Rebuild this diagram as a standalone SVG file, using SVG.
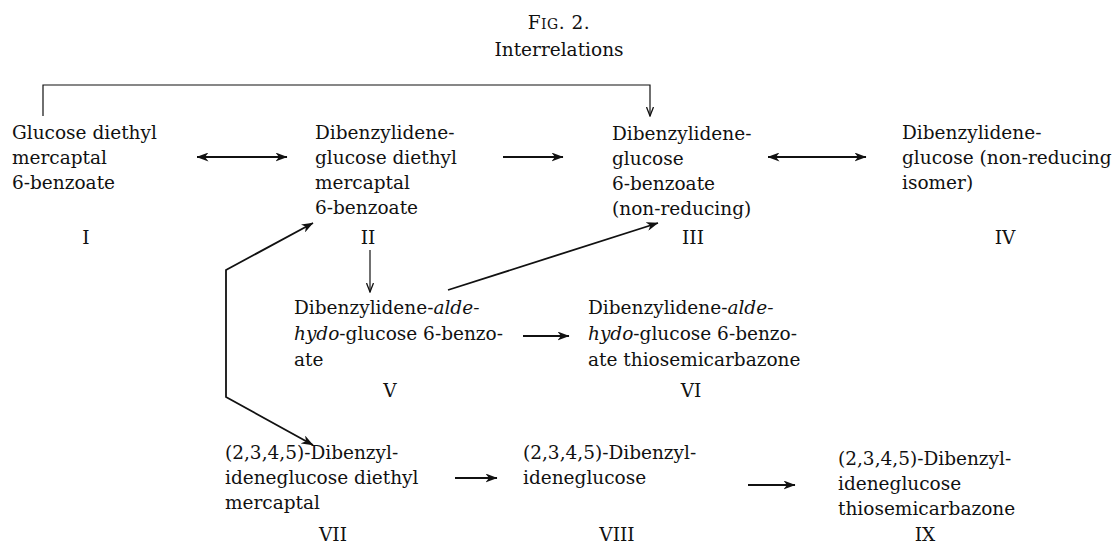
<svg xmlns="http://www.w3.org/2000/svg" width="1118" height="546" viewBox="0 0 1118 546">
<defs>
<style>
text{font-family:"DejaVu Serif","Liberation Serif",serif;font-size:18.5px;fill:#111}
.t{font-size:18.5px}
.sc{font-size:14px}
.lab{text-anchor:middle}
.it{font-style:italic}
.c{fill:none;stroke:#111;stroke-width:1.8}
.thin{fill:none;stroke:#111;stroke-width:1.2}
</style>
<marker id="ah" viewBox="0 0 12 9" refX="11.5" refY="4.5" markerWidth="12" markerHeight="9" markerUnits="userSpaceOnUse" orient="auto-start-reverse">
<path d="M0,0 L12,4.5 L0,9 L3.5,4.5 z" fill="#111"/>
</marker>
<marker id="vh" viewBox="0 0 10 8" refX="9.5" refY="4" markerWidth="10" markerHeight="8" markerUnits="userSpaceOnUse" orient="auto">
<path d="M0.5,0.5 L9.5,4 L0.5,7.5" fill="none" stroke="#111" stroke-width="1.3"/>
</marker>
</defs>
<rect width="1118" height="546" fill="#fff"/>
<g id="title">
<text x="559" y="29" class="t lab" letter-spacing="0.5">F<tspan class="sc">IG</tspan>. 2.</text>
<text x="559" y="56" class="t lab">Interrelations</text>
</g>
<g id="connectors">
<polyline class="thin" points="43,116 43,85 650,85 650,116" marker-end="url(#vh)"/>
<line class="c" x1="197" y1="157" x2="287" y2="157" marker-start="url(#ah)" marker-end="url(#ah)"/>
<line class="c" x1="503" y1="157" x2="563" y2="157" marker-end="url(#ah)"/>
<line class="c" x1="768" y1="157" x2="866" y2="157" marker-start="url(#ah)" marker-end="url(#ah)"/>
<line class="thin" x1="370" y1="250" x2="370" y2="292" marker-end="url(#vh)"/>
<line class="c" x1="448" y1="290" x2="658" y2="223" marker-end="url(#ah)"/>
<line class="c" x1="523" y1="336" x2="569" y2="336" marker-end="url(#ah)"/>
<polyline class="c" points="313,223 226,270 226,397 313,445" marker-start="url(#ah)" marker-end="url(#ah)"/>
<line class="c" x1="455" y1="478" x2="497" y2="478" marker-end="url(#ah)"/>
<line class="c" x1="748" y1="485" x2="795" y2="485" marker-end="url(#ah)"/>
</g>
<g id="node-I">
<text x="12" y="139">Glucose diethyl</text>
<text x="12" y="164">mercaptal</text>
<text x="12" y="189">6-benzoate</text>
<text x="86" y="244" class="lab">I</text>
</g>
<g id="node-II">
<text x="315" y="139">Dibenzylidene-</text>
<text x="315" y="164">glucose diethyl</text>
<text x="315" y="189">mercaptal</text>
<text x="315" y="214">6-benzoate</text>
<text x="368" y="244" class="lab">II</text>
</g>
<g id="node-III">
<text x="612" y="140">Dibenzylidene-</text>
<text x="612" y="165">glucose</text>
<text x="612" y="190">6-benzoate</text>
<text x="612" y="215">(non-reducing)</text>
<text x="693" y="244" class="lab">III</text>
</g>
<g id="node-IV">
<text x="902" y="139">Dibenzylidene-</text>
<text x="902" y="164">glucose (non-reducing</text>
<text x="902" y="189">isomer)</text>
<text x="1005" y="244" class="lab">IV</text>
</g>
<g id="node-V">
<text x="294" y="314">Dibenzylidene-<tspan class="it">alde-</tspan></text>
<text x="294" y="340"><tspan class="it">hydo</tspan>-glucose 6-benzo-</text>
<text x="294" y="366">ate</text>
<text x="390" y="397" class="lab">V</text>
</g>
<g id="node-VI">
<text x="588" y="314">Dibenzylidene-<tspan class="it">alde-</tspan></text>
<text x="588" y="340"><tspan class="it">hydo</tspan>-glucose 6-benzo-</text>
<text x="588" y="366">ate thiosemicarbazone</text>
<text x="691" y="397" class="lab">VI</text>
</g>
<g id="node-VII">
<text x="225" y="459">(2,3,4,5)-Dibenzyl-</text>
<text x="225" y="484">ideneglucose diethyl</text>
<text x="225" y="509">mercaptal</text>
<text x="333" y="541" class="lab">VII</text>
</g>
<g id="node-VIII">
<text x="523" y="459">(2,3,4,5)-Dibenzyl-</text>
<text x="523" y="484">ideneglucose</text>
<text x="617" y="541" class="lab">VIII</text>
</g>
<g id="node-IX">
<text x="838" y="465">(2,3,4,5)-Dibenzyl-</text>
<text x="838" y="490">ideneglucose</text>
<text x="838" y="515">thiosemicarbazone</text>
<text x="925" y="541" class="lab">IX</text>
</g>
</svg>
